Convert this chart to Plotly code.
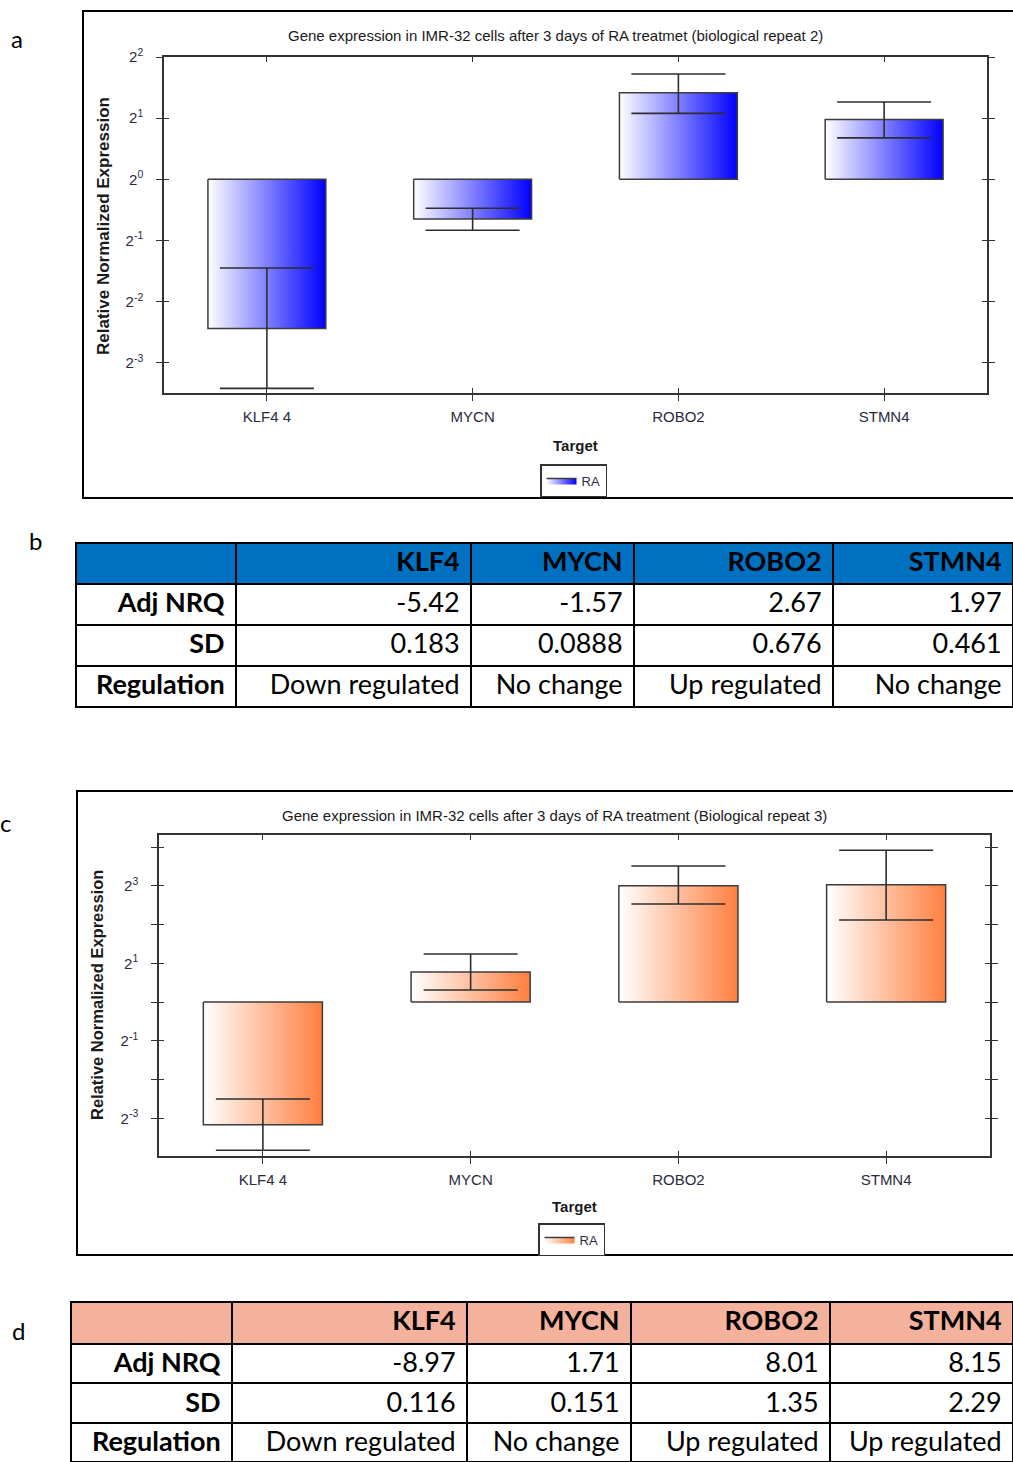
import plotly.graph_objects as go

W, H = 1013, 1462

# ---- data -------------------------------------------------------------
genes = ["KLF4", "MYCN", "ROBO2", "STMN4"]
chart_labels = ["KLF4 4", "MYCN", "ROBO2", "STMN4"]
row_names = ["Adj NRQ", "SD", "Regulation"]

# biological repeat 2
adj_nrq_b = [-5.42, -1.57, 2.67, 1.97]
sd_b = [0.183, 0.0888, 0.676, 0.461]
reg_b = ["Down regulated", "No change", "Up regulated", "No change"]
whisker_hi_a = [0.366, 0.720, 3.30, 2.40]
whisker_lo_a = [0.0935, 0.561, 2.11, 1.60]

# biological repeat 3
adj_nrq_d = [-8.97, 1.71, 8.01, 8.15]
sd_d = [0.116, 0.151, 1.35, 2.29]
reg_d = ["Down regulated", "No change", "Up regulated", "Up regulated"]
whisker_hi_c = [0.177, 2.36, 11.4, 15.1]
whisker_lo_c = [0.0708, 1.24, 5.77, 4.34]

ticks_a = [-3, -2, -1, 0, 1, 2]
ticks_c_major = [-3, -1, 1, 3]
ticks_c_minor = [-2, 0, 2, 4]

LOG2 = 0.30102999566


def fold(v):
    # Adj NRQ is reported as -1/x for down-regulation
    return v if v > 0 else -1.0 / v


def px(x):
    return x / W


def py(y):
    return 1 - y / H


NARROW = "Liberation Sans Narrow, Arial Narrow, Liberation Sans, sans-serif"
ARIAL = "Liberation Sans, Arial, sans-serif"
CAL = "Lato, Carlito, Calibri, sans-serif"
INK = "#333333"
NBSP = "\u00a0"
PAD = "\u2009"

fig = go.Figure()


def add_chart(xa, ya, values, hi, lo, colors, legend):
    half = 0.2865
    for i, v in enumerate(values):
        y = fold(v)
        fig.add_trace(go.Scatter(
            x=[i - half, i + half, i + half, i - half, i - half],
            y=[1, 1, y, y, 1],
            mode="lines", fill="toself",
            fillgradient=dict(type="horizontal", colorscale=colors),
            line=dict(color="#3c3c3c", width=1.5),
            name="RA", legendgroup=legend, legend=legend,
            showlegend=(i == 0), hoverinfo="skip",
            xaxis=xa, yaxis=ya,
        ))
    ys = [fold(v) for v in values]
    fig.add_trace(go.Scatter(
        x=list(range(len(values))), y=ys, mode="markers",
        marker=dict(size=1, color="rgba(0,0,0,0)"),
        error_y=dict(type="data", symmetric=False,
                     array=[h - y for h, y in zip(hi, ys)],
                     arrayminus=[y - l for l, y in zip(lo, ys)],
                     color="#2e2e2e", thickness=1.6, width=47),
        showlegend=False, hoverinfo="skip", xaxis=xa, yaxis=ya,
    ))


add_chart("x", "y", adj_nrq_b, whisker_hi_a, whisker_lo_a,
          [[0, "#ffffff"], [1, "#0000ff"]], "legend")
add_chart("x2", "y2", adj_nrq_d, whisker_hi_c, whisker_lo_c,
          [[0, "#ffffff"], [1, "#ff7f3f"]], "legend2")

# empty traces that register the tick-only overlay axes
fig.add_trace(go.Scatter(x=[], y=[], xaxis="x3", yaxis="y3", showlegend=False))
fig.add_trace(go.Scatter(x=[], y=[], xaxis="x4", yaxis="y4", showlegend=False))

tick_style = dict(tickcolor=INK, tickwidth=1.4, showgrid=False, zeroline=False)
xcommon = dict(range=[-0.5, 3.5], tickvals=[0, 1, 2, 3], ticktext=chart_labels,
               showline=True, mirror=True, linecolor=INK, linewidth=1.5,
               ticks="outside", ticklen=6, ticklabelstandoff=3,
               tickfont=dict(family=NARROW, size=15, color="#2b2b3b"),
               **tick_style)
ycommon = dict(type="log", showline=True, mirror="ticks", linecolor=INK,
               linewidth=1.5, ticks="outside", ticklen=6,
               ticklabelstandoff=10,
               tickfont=dict(family=NARROW, size=15, color="#2b2b3b"),
               **tick_style)
# inner halves of the crossing tick marks (and the inward top ticks)
x_inner = dict(range=[-0.5, 3.5], tickvals=[0, 1, 2, 3], showticklabels=False,
               showline=False, mirror="ticks", ticks="inside", ticklen=5,
               **tick_style)
y_inner = dict(type="log", showticklabels=False, showline=False,
               mirror="ticks", ticks="inside", ticklen=5, **tick_style)

range_a = [-3.5 * LOG2, 2 * LOG2]
range_c = [-3.97 * LOG2, 4.31 * LOG2]
vals_a = [2.0 ** k for k in ticks_a]
vals_c = [2.0 ** k for k in ticks_c_major]
minor_c = [2.0 ** k for k in ticks_c_minor]

legend_style = dict(xanchor="left", yanchor="top", bordercolor=INK,
                    borderwidth=1.5, bgcolor="white",
                    font=dict(family=NARROW, size=13, color="#2b2b3b"),
                    itemwidth=30)

fig.update_layout(
    width=W, height=H,
    margin=dict(l=0, r=0, t=0, b=0, autoexpand=False),
    paper_bgcolor="white", plot_bgcolor="white",
    xaxis=dict(domain=[px(164), px(987)], anchor="y", **xcommon),
    yaxis=dict(domain=[py(393.3), py(57)], anchor="x", range=range_a,
               tickvals=vals_a,
               ticktext=[f"2<sup>{k}</sup>" for k in ticks_a], **ycommon),
    xaxis3=dict(overlaying="x", anchor="y3", **x_inner),
    yaxis3=dict(overlaying="y", anchor="x3", range=range_a, tickvals=vals_a,
                **y_inner),
    xaxis2=dict(domain=[px(159), px(990)], anchor="y2", **xcommon),
    yaxis2=dict(domain=[py(1156), py(835)], anchor="x2", range=range_c,
                tickvals=vals_c,
                ticktext=[f"2<sup>{k}</sup>" for k in ticks_c_major],
                minor=dict(tickvals=minor_c, ticks="outside", ticklen=6,
                           tickcolor=INK, tickwidth=1.4, showgrid=False),
                **ycommon),
    xaxis4=dict(overlaying="x2", anchor="y4", **x_inner),
    yaxis4=dict(overlaying="y2", anchor="x4", range=range_c,
                tickvals=vals_c,
                minor=dict(tickvals=minor_c, ticks="inside", ticklen=5,
                           tickcolor=INK, tickwidth=1.4, showgrid=False),
                **y_inner),
    legend=dict(x=px(540), y=py(464), **legend_style),
    legend2=dict(x=px(538), y=py(1223), **legend_style),
)

# outer frames of the two chart panels
fig.add_shape(type="rect", xref="paper", yref="paper",
              x0=px(83), x1=1.05, y0=py(498), y1=py(11),
              line=dict(color="black", width=2))
fig.add_shape(type="rect", xref="paper", yref="paper",
              x0=px(77), x1=1.05, y0=py(1255), y1=py(791),
              line=dict(color="black", width=2))

notes = [
    ("Gene expression in IMR-32 cells after 3 days of RA treatmet (biological repeat 2)",
     555, 36, 15, NARROW, 0),
    ("Gene expression in IMR-32 cells after 3 days of RA treatment (Biological repeat 3)",
     554, 815, 15, NARROW, 0),
    ("<b>Relative Normalized Expression</b>", 103, 226, 17, ARIAL, -90),
    ("<b>Relative Normalized Expression</b>", 97, 995, 16.5, ARIAL, -90),
    ("<b>Target</b>", 575, 446, 15, NARROW, 0),
    ("<b>Target</b>", 574, 1206, 15, NARROW, 0),
]
for text, x, y, size, fam, ang in notes:
    fig.add_annotation(text=text, x=px(x), y=py(y), xref="paper", yref="paper",
                       showarrow=False, textangle=ang, xanchor="center",
                       yanchor="middle",
                       font=dict(family=fam, size=size, color="#1a1a1a"))

for letter, x, y in [("a", 17, 38), ("b", 35, 540), ("c", 5, 822), ("d", 18, 1330)]:
    fig.add_annotation(text=letter, x=px(x), y=py(y), xref="paper", yref="paper",
                       showarrow=False, xanchor="center", yanchor="middle",
                       font=dict(family=CAL, size=24, color="black"))


def cell(t):
    # keep each entry on one line and leave a little room at the right border
    return str(t).replace(" ", NBSP) + PAD


def add_table(nrq, sd, reg, x0, y0, y1, widths, head_fill, head_h, row_h, size):
    header = [""] + [cell(g) for g in genes]
    cols = [[cell(r) for r in row_names]]
    for n, s, r in zip(nrq, sd, reg):
        cols.append([cell(n), cell(s), cell(r)])
    fig.add_trace(go.Table(
        domain=dict(x=[px(x0), 1], y=[py(y1), py(y0)]),
        columnwidth=widths,
        header=dict(values=header, fill_color=head_fill, align="right",
                    line=dict(color="black", width=2), height=head_h,
                    font=dict(family=CAL, size=size, color="black",
                              weight="bold")),
        cells=dict(values=cols, fill_color="white", align="right",
                   line=dict(color="black", width=2), height=row_h,
                   font=dict(family=CAL, size=size, color="black",
                             weight=["bold", "normal", "normal", "normal",
                                     "normal"])),
    ))


add_table(adj_nrq_b, sd_b, reg_b, 76, 543, 712, [160, 235, 163, 199, 180],
          "#0070c0", 41, 41, 27)
add_table(adj_nrq_d, sd_d, reg_d, 71, 1302, 1462, [161, 235, 164, 199, 183],
          "#f4b19b", 42, 39.3, 27)

fig.write_html("out.html")
